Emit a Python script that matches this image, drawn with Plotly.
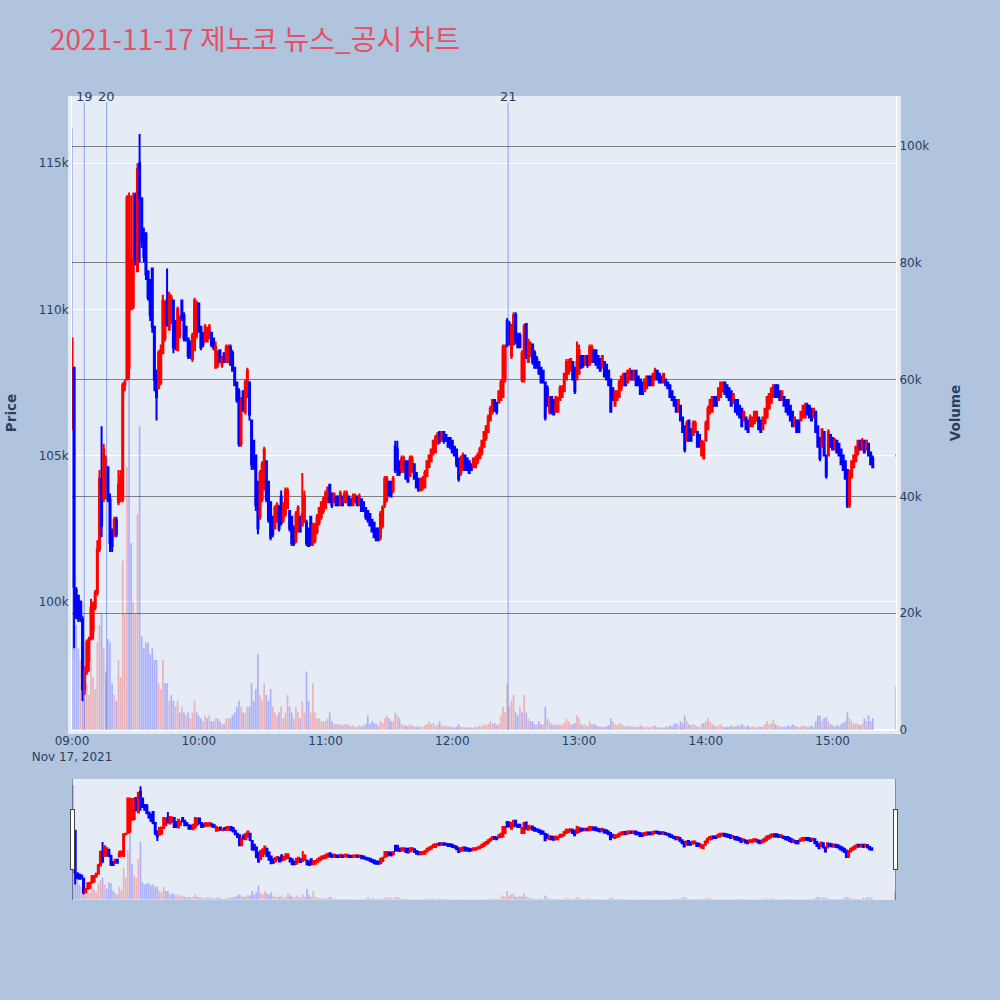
import pandas as pd
import plotly.graph_objects as go

# ---------------- data (prices in thousand KRW, volume in thousand shares) ----------------
times = list(pd.date_range("2021-11-17 09:00", "2021-11-17 15:19", freq="min")) + [pd.Timestamp("2021-11-17 15:30")]

open_k = [
    105.9,108.0,100.4,100.2,100.0,99.4,97.0,97.6,98.0,98.7,
    99.0,99.8,100.3,101.8,104.2,103.5,103.6,104.6,103.5,102.4,
    102.3,102.8,103.4,103.6,103.5,107.4,107.6,108.0,110.0,110.1,
    113.9,111.3,115.0,113.8,112.6,112.6,111.3,111.0,111.4,109.4,
    107.9,107.3,107.5,108.5,109.0,110.3,109.3,109.6,110.3,109.6,
    108.6,109.1,110.3,109.8,109.4,109.0,108.9,108.3,108.6,109.1,
    110.2,109.4,109.2,108.9,108.9,109.0,109.2,109.0,108.0,108.1,
    108.6,108.1,108.5,108.2,108.2,108.7,108.5,108.0,107.5,107.2,
    105.4,107.2,106.5,107.0,107.5,106.2,105.5,105.0,104.1,102.9,
    103.5,103.9,104.8,104.1,103.4,102.9,102.5,102.8,103.2,103.6,
    102.8,103.0,103.2,103.1,102.9,102.5,102.1,102.4,102.9,102.6,
    102.8,102.7,102.5,102.9,102.0,102.1,102.4,102.7,102.9,103.1,
    103.2,103.4,104.0,103.7,103.4,103.6,103.6,103.3,103.6,103.4,
    103.4,103.6,103.5,103.3,103.4,103.6,103.3,103.5,103.4,103.2,
    103.1,103.0,102.8,102.7,102.5,102.5,102.2,102.6,103.3,103.5,
    104.1,104.1,103.8,105.3,105.2,104.8,104.5,104.5,104.8,104.8,
    104.3,104.5,104.7,104.4,104.2,103.8,103.9,103.9,104.3,104.6,
    104.8,105.1,105.1,105.4,105.8,105.5,105.8,105.7,105.6,105.6,
    105.5,105.3,105.2,104.9,104.4,104.5,105.0,104.9,104.8,104.7,
    104.6,104.6,104.8,104.9,105.1,105.3,105.6,105.8,106.2,106.5,
    106.9,106.8,106.8,106.9,107.0,107.6,109.6,109.5,108.4,108.8,
    109.8,109.1,109.1,107.6,107.6,109.5,108.2,108.4,108.8,108.5,
    108.3,108.2,108.0,107.9,107.5,107.3,106.5,107.0,106.9,106.5,
    106.5,106.9,107.0,107.2,107.6,107.8,107.9,108.2,108.0,107.6,
    107.8,108.4,108.4,108.1,108.4,108.1,108.2,108.6,108.6,108.4,
    108.3,108.0,108.2,108.1,107.9,107.6,107.3,106.7,106.9,107.0,
    107.3,107.4,107.8,107.5,107.6,107.9,107.6,107.9,107.7,107.6,
    107.5,107.2,107.3,107.7,107.7,107.4,107.6,107.9,107.8,107.7,
    107.5,107.6,107.5,107.4,107.2,107.0,106.9,106.5,106.7,106.3,
    106.0,105.5,106.2,105.9,105.7,105.8,105.8,105.7,105.0,104.9,
    105.5,105.9,106.5,106.5,107.0,107.0,106.9,107.0,107.2,107.5,
    107.4,107.3,107.2,106.8,106.9,106.9,106.7,106.6,106.2,106.3,
    106.2,106.0,106.0,106.1,106.2,106.3,106.2,105.9,106.1,106.3,
    106.6,106.8,107.0,107.4,107.4,107.2,106.9,107.0,106.9,106.9,
    106.7,106.5,106.0,106.2,106.2,106.2,106.3,106.3,106.7,106.7,
    106.6,106.3,106.5,106.0,105.6,105.3,105.8,105.0,105.0,105.7,
    105.6,105.2,105.5,105.4,105.2,105.0,104.8,104.5,103.3,104.3,
    104.6,104.8,105.1,105.5,105.2,105.5,105.2,105.4,105.1,104.9,
    105.0,
]

high_k = [
    109.0,108.0,100.5,100.2,100.0,99.5,97.8,98.7,98.8,100.1,
    100.0,100.4,102.1,104.5,106.0,105.4,105.0,104.6,103.7,102.5,
    102.9,102.9,104.5,104.5,107.5,107.6,113.9,114.0,113.9,114.0,
    114.0,115.0,116.0,113.8,112.8,112.6,111.3,111.0,111.4,109.4,
    107.9,108.6,108.8,110.5,110.3,111.4,110.6,110.5,110.3,109.6,
    110.1,109.8,110.3,109.9,109.4,109.0,108.9,109.2,110.4,110.3,
    110.2,109.4,109.2,109.5,109.4,109.5,109.2,109.0,108.9,108.6,
    108.6,108.4,108.5,108.8,108.8,108.8,108.6,108.0,107.5,107.3,
    107.0,107.2,107.6,108.0,107.5,106.2,105.5,105.0,104.1,104.5,
    104.8,105.3,104.8,104.1,103.4,102.9,103.3,103.4,103.3,103.8,
    103.4,103.9,103.9,103.1,102.9,102.6,103.1,103.3,102.9,104.4,
    103.8,102.8,102.5,102.9,102.7,102.7,103.0,103.2,103.4,103.6,
    103.8,103.9,104.0,103.7,103.7,103.6,103.6,103.8,103.6,103.8,
    103.8,103.6,103.5,103.7,103.7,103.6,103.7,103.5,103.4,103.2,
    103.1,103.0,102.8,102.7,102.5,102.5,103.1,103.3,104.3,104.3,
    104.1,104.1,104.3,105.5,105.5,104.8,105.0,105.0,104.8,104.8,
    105.0,105.0,104.7,104.4,104.2,104.2,104.3,104.5,104.8,105.0,
    105.2,105.5,105.7,105.8,105.8,105.8,105.8,105.7,105.6,105.6,
    105.5,105.3,105.2,104.9,105.0,105.1,105.0,104.9,104.8,104.7,
    104.9,105.0,105.1,105.3,105.5,105.8,106.0,106.4,106.7,106.9,
    106.9,106.8,107.2,107.6,108.8,108.8,109.7,109.6,109.5,109.9,
    109.9,109.2,109.2,108.6,109.5,109.5,109.0,108.9,108.8,108.6,
    108.4,108.2,108.0,107.9,107.5,107.4,107.0,107.0,106.9,107.0,
    107.0,107.4,107.4,107.8,108.3,108.3,108.3,108.2,108.0,108.9,
    108.8,108.4,108.4,108.4,108.4,108.8,108.8,108.6,108.6,108.4,
    108.3,108.4,108.2,108.1,107.9,107.6,107.3,107.2,107.2,107.6,
    107.7,107.8,107.8,107.9,108.0,107.9,107.9,107.9,107.7,107.6,
    107.5,107.6,107.7,107.7,107.7,107.8,108.0,107.9,107.8,107.7,
    107.8,107.6,107.5,107.4,107.2,107.0,106.9,106.9,106.7,106.3,
    106.0,106.2,106.2,105.9,106.2,106.2,105.8,105.7,105.5,105.5,
    106.2,106.7,106.9,107.0,107.0,107.0,107.3,107.5,107.5,107.5,
    107.4,107.3,107.2,107.1,106.9,106.9,106.7,106.6,106.5,106.3,
    106.2,106.4,106.3,106.5,106.5,106.3,106.2,106.3,106.6,107.0,
    107.1,107.3,107.4,107.4,107.4,107.2,107.2,107.0,106.9,106.9,
    106.7,106.5,106.3,106.2,106.2,106.5,106.7,106.8,106.8,106.7,
    106.6,106.6,106.5,106.0,105.6,105.9,105.8,105.0,105.9,105.7,
    105.6,105.6,105.5,105.4,105.2,105.0,104.8,104.5,104.5,104.8,
    105.0,105.3,105.5,105.5,105.6,105.5,105.5,105.4,105.1,105.0,
    105.0,
]

low_k = [
    105.9,98.4,99.4,99.3,99.3,96.6,96.8,97.5,97.6,98.7,
    98.7,99.7,100.2,101.7,102.2,103.4,103.5,103.4,101.7,101.7,
    102.2,102.2,103.3,103.4,103.4,107.2,107.6,107.6,110.0,110.0,
    111.5,111.3,111.6,112.1,111.6,111.0,110.3,109.6,109.2,107.2,
    106.2,107.3,107.4,108.5,108.9,109.4,109.3,109.5,108.5,108.6,
    108.6,109.0,109.6,108.9,108.9,108.3,108.3,108.2,108.6,109.0,
    109.2,108.6,108.7,108.9,108.9,109.0,108.7,108.6,108.0,108.0,
    108.2,108.0,108.2,108.2,108.2,108.1,107.9,107.4,106.8,105.3,
    105.3,106.5,106.4,107.0,106.2,104.5,104.5,103.1,102.3,102.8,
    103.4,103.8,103.4,102.7,102.1,102.2,102.5,102.7,102.4,102.6,
    102.7,102.9,103.2,102.4,101.9,101.9,102.0,102.4,102.4,102.6,
    102.7,101.9,101.9,101.9,101.9,102.0,102.3,102.6,102.8,103.0,
    103.2,103.4,103.4,103.2,103.4,103.3,103.3,103.3,103.3,103.4,
    103.4,103.3,103.3,103.3,103.4,103.3,103.3,103.1,103.1,102.8,
    102.7,102.6,102.4,102.2,102.1,102.1,102.1,102.5,103.2,103.4,
    103.6,103.6,103.7,104.4,104.3,104.3,104.4,104.4,104.2,104.1,
    104.3,104.4,104.2,103.9,103.8,103.8,103.8,103.9,104.3,104.6,
    104.8,105.0,105.1,105.4,105.4,105.5,105.4,105.5,105.3,105.2,
    105.1,105.0,104.6,104.1,104.3,104.5,104.5,104.5,104.4,104.5,
    104.6,104.6,104.7,104.9,105.0,105.3,105.5,105.8,106.2,106.4,
    106.5,106.4,106.8,106.9,107.0,107.5,108.7,108.8,108.3,108.8,
    108.8,108.7,108.7,107.5,107.5,108.3,108.2,108.4,108.1,108.0,
    108.0,107.8,107.5,107.5,106.2,106.7,106.4,106.4,106.4,106.5,
    106.5,106.9,107.0,107.2,107.6,107.8,107.9,107.6,107.1,107.6,
    107.8,108.0,108.0,108.1,108.0,108.1,108.2,108.2,108.1,108.0,
    107.9,108.0,107.7,107.6,107.4,106.5,106.9,106.7,106.9,107.0,
    107.2,107.4,107.4,107.5,107.6,107.6,107.6,107.4,107.4,107.1,
    107.1,107.2,107.3,107.4,107.4,107.4,107.6,107.6,107.5,107.5,
    107.5,107.4,107.3,107.0,106.9,106.7,106.5,106.5,106.2,105.8,
    105.1,105.5,105.5,105.5,105.7,105.8,105.3,105.3,105.0,104.9,
    105.5,105.9,106.4,106.5,106.7,106.7,106.9,107.0,107.2,107.1,
    107.0,106.9,106.7,106.8,106.5,106.4,106.3,106.0,106.2,105.9,
    105.8,106.0,106.0,106.1,106.2,105.9,105.8,105.9,106.1,106.3,
    106.6,106.8,107.0,107.0,107.0,106.9,106.9,106.7,106.5,106.4,
    106.2,106.0,106.0,105.8,105.8,106.2,106.3,106.3,106.4,106.3,
    106.2,106.3,105.8,105.3,104.8,105.3,105.0,104.2,105.0,105.3,
    105.2,105.2,105.1,105.0,104.7,104.5,104.2,103.2,103.2,104.2,
    104.6,104.8,105.0,105.2,105.2,105.1,105.2,105.0,104.7,104.6,
    105.0,
]

close_k = [
    109.0,100.5,99.5,99.4,99.5,97.0,97.6,98.6,98.7,99.8,
    99.9,100.3,101.8,104.2,102.6,105.2,104.9,103.5,102.0,101.9,
    102.8,102.3,104.0,104.3,107.4,107.5,113.8,112.0,111.7,111.7,
    111.7,114.8,113.8,112.3,111.8,111.2,110.4,109.8,109.4,107.6,
    107.0,108.5,108.6,110.3,110.2,109.5,110.5,110.4,108.7,108.7,
    110.0,109.7,109.7,109.0,109.0,108.4,108.4,109.1,110.3,110.2,
    109.3,108.7,108.8,109.4,109.3,109.4,108.8,108.7,108.7,108.5,
    108.2,108.3,108.2,108.7,108.7,108.1,107.9,107.4,106.9,105.4,
    106.8,106.6,107.5,107.9,106.4,104.7,104.6,103.3,102.5,104.4,
    104.7,105.2,103.5,102.8,102.2,102.3,103.2,103.3,102.5,102.7,
    103.3,103.8,103.8,102.5,102.0,102.0,103.0,103.2,102.4,103.0,
    103.6,102.0,101.9,102.0,102.6,102.6,102.9,103.2,103.4,103.5,
    103.7,103.9,103.4,103.3,103.7,103.3,103.3,103.7,103.3,103.7,
    103.7,103.3,103.3,103.6,103.6,103.3,103.6,103.1,103.1,102.9,
    102.8,102.6,102.4,102.2,102.1,102.1,103.0,103.2,104.2,104.2,
    103.7,103.6,104.2,104.5,104.5,104.4,104.9,104.9,104.2,104.1,
    104.9,104.9,104.2,103.9,103.8,104.2,104.2,104.4,104.8,105.0,
    105.2,105.5,105.6,105.7,105.5,105.8,105.5,105.5,105.3,105.3,
    105.1,105.0,104.7,104.2,104.9,105.0,104.5,104.5,104.4,104.5,
    104.9,104.9,105.0,105.2,105.5,105.8,106.0,106.3,106.6,106.9,
    106.6,106.5,107.2,107.5,108.7,108.7,108.8,108.8,109.4,109.8,
    108.9,108.7,108.7,108.5,109.4,108.4,108.9,108.8,108.2,108.0,
    108.0,107.8,107.5,107.5,106.3,106.7,107.0,106.5,106.4,107.0,
    106.9,107.3,107.3,107.8,108.2,108.2,108.3,107.6,107.2,108.2,
    108.6,108.0,108.1,108.4,108.1,108.7,108.7,108.2,108.1,108.0,
    107.9,108.4,107.7,107.6,107.4,106.5,106.9,107.2,107.2,107.5,
    107.7,107.8,107.4,107.9,107.9,107.6,107.9,107.4,107.4,107.1,
    107.1,107.6,107.7,107.4,107.4,107.8,107.9,107.6,107.5,107.5,
    107.8,107.4,107.3,107.0,106.9,106.7,106.5,106.9,106.2,105.8,
    105.2,106.1,105.5,105.5,106.1,106.1,105.3,105.3,105.5,105.4,
    106.1,106.6,106.9,107.0,106.7,106.7,107.3,107.5,107.5,107.1,
    107.0,106.9,106.7,107.1,106.5,106.4,106.3,106.0,106.5,105.9,
    105.8,106.3,106.3,106.5,106.5,105.9,105.8,106.3,106.6,107.0,
    107.1,107.3,107.4,107.0,107.0,106.9,107.2,106.7,106.5,106.4,
    106.2,106.0,106.3,105.8,105.8,106.5,106.7,106.7,106.4,106.3,
    106.2,106.6,105.8,105.3,104.9,105.9,105.0,104.3,105.8,105.3,
    105.2,105.5,105.1,105.0,104.7,104.5,104.2,103.3,104.4,104.8,
    105.0,105.3,105.5,105.2,105.5,105.1,105.5,105.0,104.7,104.6,
    105.0,
]

volume_k = [
    103,30,18,14,12,22,10,8,6,12,
    9,7,15,18,20,14,10,15.6,15,8,
    6,5,12,9,29,20,45,60,32,22,
    20,37,52,16,14,15,15,13,14,12,
    12,8,7,12,8,8,5,6,5,4,
    5,3,4,3,2.5,3,2,3,5,3,
    2.5,2,1.5,2.5,2,2.5,1.5,1.5,2,2,
    1.5,1,1,2,2,2,2.5,3,4,5,
    4,3,3,4,4,8,5,7,13,6,
    5,8,6,5,7,4,3,2.5,3,4,
    2,3,6,4,3,2,4,3,2,5,
    3,10,5,3,8,3,2,2,1.5,1.5,
    1.5,2,3,1.5,1,1,1,1,0.8,1,
    1,0.8,0.6,0.8,0.6,0.5,0.8,0.6,0.8,1,
    2.5,1,1.5,1.2,1,0.8,1.5,1.2,2,2.5,
    2,1.5,1.5,3,2.5,2,1,0.8,0.8,0.6,
    1,0.8,0.6,0.5,0.6,0.5,0.6,0.8,1,1.5,
    1,1.2,0.8,1,1.5,0.8,0.6,0.8,0.5,0.6,
    0.5,0.4,0.6,1,0.6,0.5,0.4,0.5,0.4,0.5,
    0.4,0.6,0.5,0.8,0.6,1,0.8,1,1.5,1,
    1.2,0.8,1,2.5,4,3,8,4,5,6,
    3,2.5,4,3,6,3,2,1.5,1.5,1,
    1,1.5,1,1,4,2,1.5,1,0.8,1,
    0.8,1,0.8,1.2,2,1.5,1,1,1.2,2.5,
    2,1,0.8,1,0.6,1.5,1,1,0.8,0.6,
    0.6,0.5,0.5,0.6,0.8,2,1.5,1,0.8,1.2,
    1,0.8,0.6,0.8,0.6,0.5,0.6,0.5,0.5,0.8,
    0.6,0.5,0.6,0.4,0.5,0.6,0.8,0.5,0.4,0.5,
    0.4,0.6,0.5,0.8,0.6,1,1.2,0.8,1.5,1.2,
    2.5,1.5,1,0.8,1,0.8,0.6,0.5,1,1.2,
    1.5,2,1.5,1,0.8,0.6,0.8,1,0.6,0.5,
    0.6,0.5,0.8,0.6,0.6,0.8,0.6,1,0.8,0.6,
    0.8,0.5,0.6,0.5,0.4,0.6,0.5,0.6,1,1.5,
    1,1.2,1.8,1,0.8,0.6,0.5,0.6,0.5,0.8,
    0.6,1,0.8,0.6,0.5,0.6,0.8,0.6,0.5,0.6,
    0.8,0.6,1.5,2.5,2.5,1.5,2,2.2,1.5,1,
    0.8,0.6,0.8,0.6,1,1.2,1.5,3,2,1.5,
    1,1.2,1,0.8,1,2,1.5,2.5,1.5,2,
    7.5,
]

news_times = ["2021-11-17 09:05:49", "2021-11-17 09:16:24", "2021-11-17 12:26:24"]
news_labels = ["19", "20", "21"]

# ---------------- figure ----------------
opens = [v * 1000 for v in open_k]
highs = [v * 1000 for v in high_k]
lows = [v * 1000 for v in low_k]
closes = [v * 1000 for v in close_k]
volumes = [v * 1000 for v in volume_k]
prev_close = [None] + closes[:-1]
vol_colors = ["rgba(0,0,255,0.25)" if (p is None or c < p) else "rgba(255,0,0,0.25)"
              for p, c in zip(prev_close, closes)]

fig = go.Figure()
fig.add_trace(go.Bar(x=times, y=volumes, marker=dict(color=vol_colors, line=dict(width=0)),
                     yaxis="y", name="Volume", showlegend=False))
fig.add_trace(go.Candlestick(x=times, open=opens, high=highs, low=lows, close=closes,
                             yaxis="y2", name="Price", showlegend=False,
                             increasing=dict(line=dict(color="red"), fillcolor="red"),
                             decreasing=dict(line=dict(color="blue"), fillcolor="blue")))

shapes = [
    # plot-background halo just outside the axis lines (drawn beneath the plot area)
    dict(type="rect", xref="paper", yref="paper", x0=-0.0049, x1=1.006, y0=-0.0064, y1=1,
         fillcolor="#E5ECF6", line=dict(width=0), layer="below"),
]
annotations = []
for t, lab in zip(news_times, news_labels):
    shapes.append(dict(type="line", xref="x", yref="paper", x0=t, x1=t, y0=0, y1=0.99,
                       line=dict(color="rgba(65,105,225,0.55)", width=1)))
    annotations.append(dict(x=t, y=1, xref="x", yref="paper", text=lab, showarrow=False,
                            yanchor="middle", font=dict(size=13, color="#2a3f5f")))

axis_title_font = dict(size=13.5, color="#2a3f5f", weight="bold")

fig.update_layout(
    width=1000, height=1000,
    template="plotly",
    font=dict(family="DejaVu Sans"),
    paper_bgcolor="lightsteelblue",
    title=dict(text="2021-11-17 제노코 뉴스_공시 차트", x=0.05, xanchor="left", y=0.96, yanchor="middle",
               font=dict(family="Noto Sans CJK KR", size=28, color="#E94F64")),
    margin=dict(l=72, r=104, t=96, b=100),
    showlegend=False,
    bargap=0.2,
    xaxis=dict(range=["2021-11-17 09:00", "2021-11-17 15:30"], showgrid=False,
               showline=True, linecolor="white", linewidth=1,
               rangeslider=dict(visible=True, bgcolor="#E5ECF6", thickness=0.15)),
    yaxis=dict(title=dict(text="Volume", font=axis_title_font, standoff=22), side="right",
               range=[0, 108580], gridcolor="gray", zerolinecolor="white", showgrid=True,
               showline=True, linecolor="white", linewidth=1, automargin=False),
    yaxis2=dict(title=dict(text="Price", font=axis_title_font, standoff=19), side="left", overlaying="y",
                range=[95606, 117300], gridcolor="white",
                showline=True, linecolor="white", linewidth=1, automargin=False),
    shapes=shapes,
    annotations=annotations,
)

fig.write_html("out.html", config={"displayModeBar": False},
               post_script="document.body.style.margin='0';document.body.style.overflow='hidden';")
